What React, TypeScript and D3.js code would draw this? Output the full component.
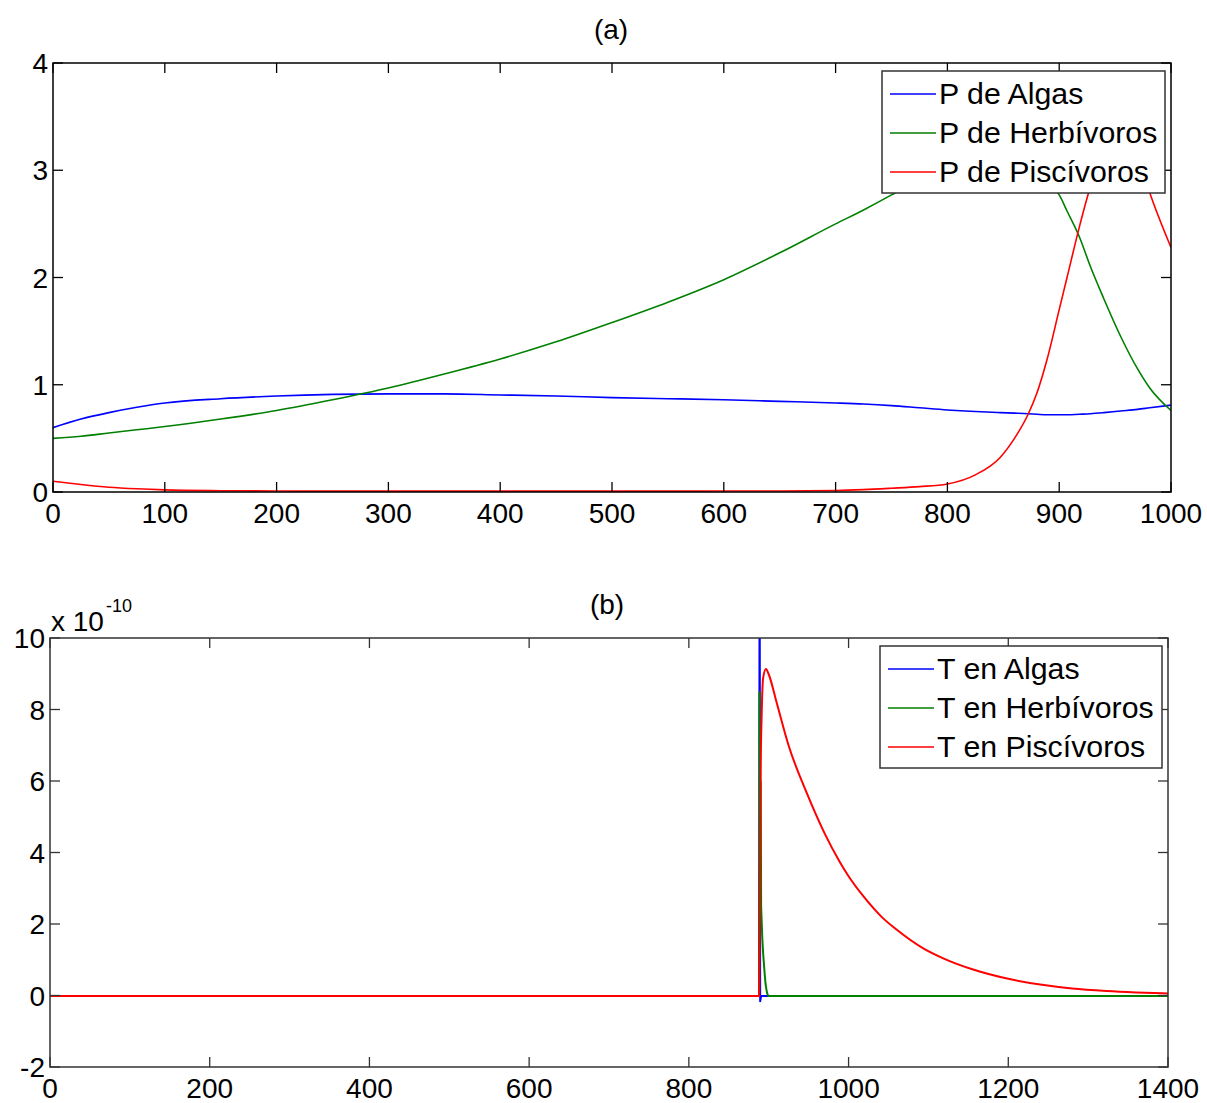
import React from "react";
import * as d3 from "d3";

// ---------- Panel (a) data ----------
const tA = [0, 25, 50, 75, 100, 150, 200, 250, 300, 350, 400, 450, 500, 550, 600, 650, 700, 725, 750, 775, 800, 825, 847, 860, 872, 880, 889, 900, 907, 918, 928, 940, 955, 970, 981, 1000];
const algasA = [0.60, 0.68, 0.74, 0.79, 0.83, 0.87, 0.895, 0.91, 0.915, 0.915, 0.905, 0.895, 0.88, 0.87, 0.86, 0.845, 0.83, 0.82, 0.805, 0.785, 0.765, 0.75, 0.74, 0.735, 0.73, 0.725, 0.72, 0.72, 0.72, 0.725, 0.73, 0.74, 0.755, 0.77, 0.785, 0.81];
const herbA = [0.50, 0.52, 0.55, 0.58, 0.61, 0.68, 0.76, 0.86, 0.97, 1.10, 1.24, 1.40, 1.58, 1.77, 1.98, 2.23, 2.50, 2.63, 2.77, 2.92, 3.05, 3.15, 3.19, 3.16, 3.10, 3.02, 2.88, 2.77, 2.62, 2.38, 2.10, 1.80, 1.45, 1.15, 0.97, 0.76];
const piscA = [0.10, 0.07, 0.045, 0.03, 0.02, 0.012, 0.009, 0.008, 0.008, 0.008, 0.008, 0.008, 0.008, 0.008, 0.009, 0.01, 0.014, 0.022, 0.035, 0.05, 0.075, 0.16, 0.32, 0.5, 0.72, 0.92, 1.23, 1.7, 2.0, 2.47, 2.85, 3.2, 3.35, 3.15, 2.79, 2.28];

// ---------- Panel (b) data (x 10^-10) ----------
const tBlue = [0, 888, 888.6, 889.3, 890.5, 1400];
const algasB = [0, 0, 14, -0.15, 0, 0];
const tGreen = [0, 888, 888.4, 888.8, 889.2, 889.6, 890, 890.5, 891, 892, 893, 894, 895, 896, 897, 898, 899, 900, 1400];
const herbB = [0, 0, 8.5, 3, 7.5, 2.5, 6, 2.5, 2.2, 1.6, 1.2, 0.9, 0.6, 0.35, 0.2, 0.08, 0.02, 0, 0];
const tRed = [0, 888, 889, 890, 891, 893, 896.6, 900, 910, 925, 948, 970, 989, 1000, 1020, 1042, 1060, 1093, 1120, 1156, 1200, 1240, 1280, 1323, 1360, 1400];
const piscB = [0, 0, 3, 6.5, 7.7, 8.9, 9.15, 9.0, 8.2, 7.0, 5.66, 4.55, 3.75, 3.35, 2.75, 2.2, 1.86, 1.34, 1.04, 0.74, 0.48, 0.32, 0.21, 0.14, 0.1, 0.07];

const xTicksA = [0, 100, 200, 300, 400, 500, 600, 700, 800, 900, 1000];
const yTicksA = [0, 1, 2, 3, 4];
const xTicksB = [0, 200, 400, 600, 800, 1000, 1200, 1400];
const yTicksB = [-2, 0, 2, 4, 6, 8, 10];

const legendA = ["P de Algas", "P de Herbívoros", "P de Piscívoros"];
const legendB = ["T en Algas", "T en Herbívoros", "T en Piscívoros"];
const colors = ["#0000ff", "#008000", "#ff0000"];

const FONT = "'Liberation Sans', Arial, sans-serif";

type Series = { x: number[]; y: number[]; color: string; smooth: boolean };

function Panel(props: {
  id: string;
  left: number; top: number; width: number; height: number;
  xDomain: [number, number]; yDomain: [number, number];
  xTicks: number[]; yTicks: number[];
  series: Series[];
  title: string; titleX: number; titleY: number;
  legend: string[]; legendBox: { x: number; y: number; w: number; h: number };
  axisColor: string;
  lw: number;
  dy: number;
  children?: React.ReactNode;
}) {
  const { left, top, width, height } = props;
  const x = d3.scaleLinear().domain(props.xDomain).range([left, left + width]);
  const y = d3.scaleLinear().domain(props.yDomain).range([top + height, top]);
  const tl = 10;
  const lb = props.legendBox;
  return (
    <g>
      <defs>
        <clipPath id={props.id}>
          <rect x={left} y={top} width={width} height={height} />
        </clipPath>
      </defs>
      <rect x={left} y={top} width={width} height={height} fill="#fff" />
      <g clipPath={`url(#${props.id})`}>
        <g transform={`translate(0,${props.dy})`}>
          {props.series.map((s, i) => {
            const pts = s.x.map((v, j) => [v, s.y[j]] as [number, number]);
            const line = d3
              .line<[number, number]>()
              .x((d) => x(d[0]))
              .y((d) => y(d[1]))
              .curve(s.smooth ? d3.curveMonotoneX : d3.curveLinear);
            return <path key={i} d={line(pts) || ""} fill="none" stroke={s.color} strokeWidth={props.lw} strokeLinejoin="round" />;
          })}
        </g>
      </g>
      {props.xTicks.map((t) => (
        <g key={"xt" + t}>
          <line x1={x(t)} x2={x(t)} y1={top + height} y2={top + height - tl} stroke={props.axisColor} strokeWidth={1.3} />
          <line x1={x(t)} x2={x(t)} y1={top} y2={top + tl} stroke={props.axisColor} strokeWidth={1.3} />
          <text x={x(t)} y={top + height + 31} textAnchor="middle" fontSize={28} fontFamily={FONT} fill="#000">{t}</text>
        </g>
      ))}
      {props.yTicks.map((t) => (
        <g key={"yt" + t}>
          <line x1={left} x2={left + tl} y1={y(t)} y2={y(t)} stroke={props.axisColor} strokeWidth={1.3} />
          <line x1={left + width} x2={left + width - tl} y1={y(t)} y2={y(t)} stroke={props.axisColor} strokeWidth={1.3} />
          <text x={left - 5} y={y(t) + 10} textAnchor="end" fontSize={28} fontFamily={FONT} fill="#000">{t}</text>
        </g>
      ))}
      <rect x={left} y={top} width={width} height={height} fill="none" stroke={props.axisColor} strokeWidth={1.5} />
      <rect x={lb.x} y={lb.y} width={lb.w} height={lb.h} fill="#fff" stroke="#333" strokeWidth={1.5} />
      {props.legend.map((name, i) => {
        const cy = lb.y + 23 + i * 39;
        return (
          <g key={name}>
            <line x1={lb.x + 8} x2={lb.x + 54} y1={cy} y2={cy} stroke={colors[i]} strokeWidth={1.6} />
            <text x={lb.x + 57} y={cy + 10} fontSize={30.3} fontFamily={FONT} fill="#000">{name}</text>
          </g>
        );
      })}
      <text x={props.titleX} y={props.titleY} textAnchor="middle" fontSize={28} fontFamily={FONT} fill="#000">{props.title}</text>
      {props.children}
    </g>
  );
}

export default function App() {
  return (
    <svg width={1207} height={1103} style={{ position: "absolute", left: 0, top: 0, background: "#fff" }}>
      <rect x={0} y={0} width={1207} height={1103} fill="#fff" />
      <Panel
        id="clipA"
        left={53} top={63} width={1118} height={429}
        xDomain={[0, 1000]} yDomain={[0, 4]}
        xTicks={xTicksA} yTicks={yTicksA}
        series={[
          { x: tA, y: algasA, color: colors[0], smooth: true },
          { x: tA, y: herbA, color: colors[1], smooth: true },
          { x: tA, y: piscA, color: colors[2], smooth: true },
        ]}
        title="(a)" titleX={611} titleY={39}
        legend={legendA} legendBox={{ x: 882, y: 71, w: 283, h: 122 }}
        axisColor="#000"
        lw={1.6}
        dy={0}
      />
      <Panel
        id="clipB"
        left={50} top={638} width={1118} height={429}
        xDomain={[0, 1400]} yDomain={[-2, 10]}
        xTicks={xTicksB} yTicks={yTicksB}
        series={[
          { x: tBlue, y: algasB, color: colors[0], smooth: false },
          { x: tGreen, y: herbB, color: colors[1], smooth: false },
          { x: tRed, y: piscB, color: colors[2], smooth: true },
        ]}
        title="(b)" titleX={607} titleY={614}
        legend={legendB} legendBox={{ x: 880, y: 646, w: 282, h: 122 }}
        axisColor="#333"
        lw={2}
        dy={0.5}
      >
        <text x={51} y={631} fontSize={28} fontFamily={FONT} fill="#000">x 10</text>
        <text x={106} y={612} fontSize={18} fontFamily={FONT} fill="#000">-10</text>
      </Panel>
    </svg>
  );
}
